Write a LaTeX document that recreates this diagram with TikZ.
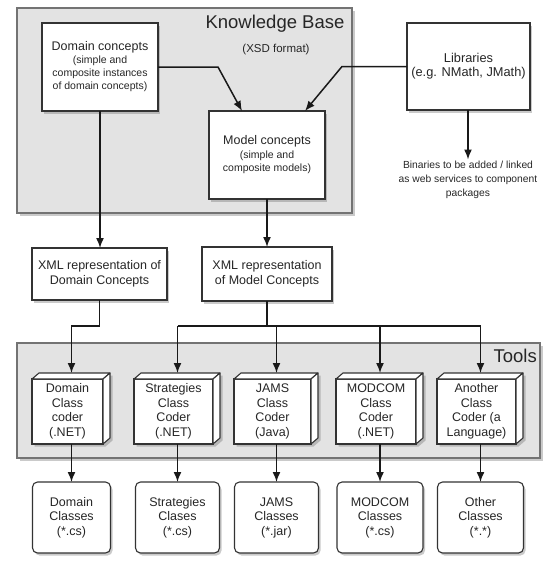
\documentclass[tikz,border=0pt]{standalone}
\usepackage{fontspec}
\setmainfont{Liberation Sans}
\usetikzlibrary{arrows.meta,shadows,calc}
\pgfdeclarelayer{back}
\pgfdeclarelayer{shad}
\pgfsetlayers{back,shad,main}
\begin{document}
\begin{tikzpicture}[x=1pt,y=-1pt,
  panel/.style={draw=black!55, fill=black!11, line width=1.2pt, inner sep=0pt, outer sep=0pt,
    drop shadow={shadow xshift=2.5pt,shadow yshift=-2.5pt,opacity=0.35,fill=black!60}},
  box/.style={draw=black!80, fill=white, line width=1.1pt, align=center, inner sep=0pt, outer sep=0pt,
    text=black!85, font=\fontsize{12.5}{14.5}\selectfont},
  sbox/.style={box, drop shadow={shadow xshift=2pt,shadow yshift=-2.5pt,opacity=0.35,fill=black!60}},
  rbox/.style={sbox, rounded corners=5pt},
  cubeface/.style={draw=black!80, fill=white, line width=1.1pt, line join=round},
  arr/.style={-{Latex[length=10pt,width=8pt]}, line width=1.5pt, black!90},
  bus/.style={line width=1.5pt, black!90},
  title/.style={font=\fontsize{18.5}{20}\selectfont, text=black!85, inner sep=0pt},
]
\useasboundingbox (0,0) rectangle (546,563);

% panels
\begin{pgfonlayer}{back}
\node[panel, minimum width=335pt, minimum height=205pt] (kb) at (184.5,110.5) {};
\node[panel, minimum width=523pt, minimum height=115pt] (tp) at (278.5,400.5) {};
\end{pgfonlayer}

\node[title, anchor=base] (kbt) at (275,28.5) {Knowledge Base};
\node[font=\fontsize{11.5}{13}\selectfont, text=black!85, inner sep=0pt, anchor=base] (xsd) at (276,52.5) {(XSD format)};
\node[title, anchor=base east] (tt) at (537,362) {Tools};

% knowledge base boxes
\node[sbox, minimum width=116pt, minimum height=88pt, font=\fontsize{10.5}{13}\selectfont] (dc) at (100,67)
  {{\fontsize{12.5}{13}\selectfont Domain concepts}\\(simple and\\composite instances\\of domain concepts)};
\node[sbox, minimum width=116pt, minimum height=88pt, font=\fontsize{10.5}{13.5}\selectfont] (mc) at (267,155)
  {{\fontsize{12.5}{13.5}\selectfont Model concepts}\\(simple and\\composite models)};
\node[sbox, minimum width=123pt, minimum height=87pt, font=\fontsize{12.8}{14}\selectfont] (lib) at (468.5,66.5)
  {Libraries\\(e.g. NMath, JMath)};
\node[align=center, inner sep=1pt, text=black!85, font=\fontsize{10.3}{14}\selectfont] (bin) at (468,179.5)
  {Binaries to be added / linked\\as web services to component\\packages};

% XML boxes
\node[sbox, minimum width=135pt, minimum height=52pt] (xd) at (99.5,274) {XML representation of\\Domain Concepts};
\node[sbox, minimum width=130pt, minimum height=54pt] (xm) at (267,274) {XML representation\\of Model Concepts};

% coders (front faces)
\node[box, minimum width=71pt, minimum height=65pt] (c1) at (67.5,411.5) {Domain\\Class\\coder\\(.NET)};
\node[box, minimum width=79pt, minimum height=65pt] (c2) at (173.5,411.5) {Strategies\\Class\\Coder\\(.NET)};
\node[box, minimum width=77pt, minimum height=65pt] (c3) at (272.5,411.5) {JAMS\\Class\\Coder\\(Java)};
\node[box, minimum width=80pt, minimum height=65pt] (c4) at (376,411.5) {MODCOM\\Class\\Coder\\(.NET)};
\node[box, minimum width=79pt, minimum height=65pt] (c5) at (476.5,411.5) {Another\\Class\\Coder (a\\Language)};

\foreach \n in {c1,c2,c3,c4,c5} {
  \begin{pgfonlayer}{shad}
  \fill[black!60, opacity=0.35] ($(\n.north west)+(2.5,2.5)$) -- ($(\n.north west)+(9.5,-3.5)$)
    -- ($(\n.north east)+(9.5,-3.5)$) -- ($(\n.south east)+(9.5,-3.5)$)
    -- ($(\n.south east)+(2.5,2.5)$) -- ($(\n.south west)+(2.5,2.5)$) -- cycle;
  \end{pgfonlayer}
  \draw[cubeface] (\n.north west) -- ($(\n.north west)+(7,-6)$) -- ($(\n.north east)+(7,-6)$) -- (\n.north east) -- cycle;
  \draw[cubeface] (\n.north east) -- ($(\n.north east)+(7,-6)$) -- ($(\n.south east)+(7,-6)$) -- (\n.south east) -- cycle;
  \coordinate (\n t) at ($(\n.north)+(4,-6)$);
}

% output boxes
\node[rbox, minimum width=78pt, minimum height=71pt] (b1) at (71.5,517.5) {Domain\\Classes\\(*.cs)};
\node[rbox, minimum width=84pt, minimum height=71pt] (b2) at (177.5,517.5) {Strategies\\Clases\\(*.cs)};
\node[rbox, minimum width=84pt, minimum height=71pt] (b3) at (276.5,517.5) {JAMS\\Classes\\(*.jar)};
\node[rbox, minimum width=86pt, minimum height=71pt] (b4) at (380,517.5) {MODCOM\\Classes\\(*.cs)};
\node[rbox, minimum width=86pt, minimum height=71pt] (b5) at (480.5,517.5) {Other\\Classes\\(*.*)};

% connectors in knowledge base
\draw[arr] (dc.east) -- ++(60,0) -- ($(mc.north)+(-25,0)$);
\draw[arr] (lib.west) -- ++(-65,0) -- ($(mc.north)+(38,0)$);
\draw[arr] (bin.north |- lib.south) -- (bin.north);
\draw[arr] (dc.south) -- (dc.south |- xd.north);
\draw[arr] (mc.south) -- (mc.south |- xm.north);

% bus to tools
\coordinate (busy) at (0,326);
\draw[bus] (xm.south) -- (xm.south |- busy);
\draw[bus] (c2t |- busy) -- (c5t |- busy);
\foreach \n in {c2,c3,c4,c5} { \draw[arr] (\n t |- busy) -- (\n t); }
\draw[arr] (xd.south) -- (xd.south |- busy) -| (c1t);

% coders to outputs
\foreach \i in {1,...,5} { \draw[arr] (b\i.north |- c\i.south) -- (b\i.north); }
\end{tikzpicture}
\end{document}
